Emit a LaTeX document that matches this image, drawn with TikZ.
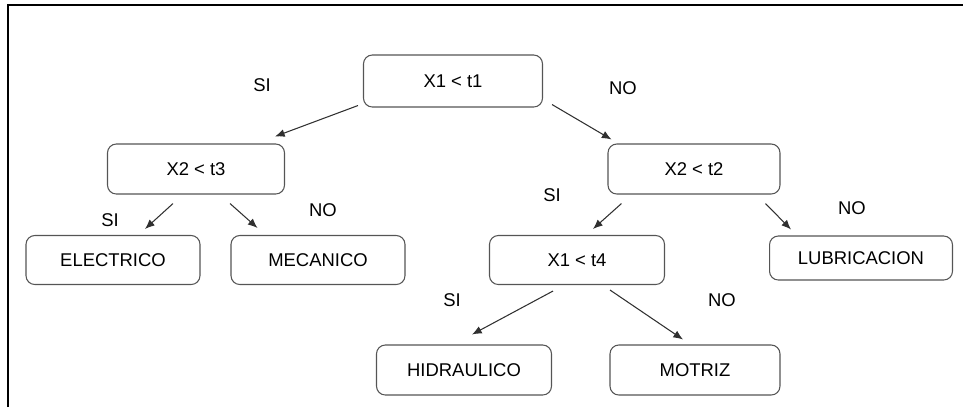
\documentclass[tikz,border=0pt]{standalone}
\usepackage{fontspec}
\setmainfont{Liberation Sans}
\usetikzlibrary{arrows.meta}
\definecolor{boxgray}{HTML}{555555}
\definecolor{arrgray}{HTML}{303030}
\tikzset{
  caja/.style={draw=boxgray, line width=0.6pt, rounded corners=5pt, inner sep=0pt,
    font=\fontsize{10.5}{12}\selectfont},
  rama/.style={font=\fontsize{10.5}{12}\selectfont, inner sep=1pt},
  flecha/.style={->, draw=arrgray, line width=0.6pt}
}
\begin{document}
\begin{tikzpicture}[x=0.02cm, y=-0.02cm, >={Latex[length=5.5pt,width=4.5pt]}]
\useasboundingbox (0,0) rectangle (963,407);
\draw[line width=1.1pt] (8,407)--(8,5)--(963,5);

\node[caja, minimum width=3.58cm, minimum height=1.04cm] (x1t1) at (453,81) {X1 < t1};
\node[caja, minimum width=3.54cm, minimum height=1cm] (x2t3) at (196,169) {X2 < t3};
\node[caja, minimum width=3.44cm, minimum height=1cm] (x2t2) at (694,169) {X2 < t2};
\node[caja, minimum width=3.48cm, minimum height=0.98cm] (elec) at (113,260) {ELECTRICO};
\node[caja, minimum width=3.48cm, minimum height=0.98cm] (meca) at (318,260) {MECANICO};
\node[caja, minimum width=3.5cm, minimum height=0.98cm] (x1t4) at (577,260) {X1 < t4};
\node[caja, minimum width=3.66cm, minimum height=0.88cm] (lubr) at (861,258) {LUBRICACION};
\node[caja, minimum width=3.5cm, minimum height=1cm] (hidr) at (464,370) {HIDRAULICO};
\node[caja, minimum width=3.4cm, minimum height=1cm] (motr) at (695,370) {MOTRIZ};

\node[rama] (si1) at (262,85) {SI};
\node[rama] (no1) at (623,88) {NO};
\node[rama] (si2) at (110,220) {SI};
\node[rama] (no2) at (323,210) {NO};
\node[rama] (si3) at (552,195) {SI};
\node[rama] (no3) at (852,208) {NO};
\node[rama] (si4) at (452,300) {SI};
\node[rama] (no4) at (722,300) {NO};

\draw[flecha] ([shift={(-5,-2)}]x1t1.south west) -- ([shift={(-10,-7)}]x2t3.north east);
\draw[flecha] ([shift={(9,-3)}]x1t1.south east) -- ([shift={(4,-4)}]x2t2.north west);
\draw[flecha] ([shift={(-23,9)}]x2t3.south) -- ([shift={(32,-6)}]elec.north);
\draw[flecha] ([shift={(34,9)}]x2t3.south) -- ([shift={(27,-7)}]meca.north west);
\draw[flecha] ([shift={(14,9)}]x2t2.south west) -- ([shift={(16,-6)}]x1t4.north);
\draw[flecha] ([shift={(-15,9)}]x2t2.south east) -- ([shift={(22,-6)}]lubr.north west);
\draw[flecha] ([shift={(-24,6)}]x1t4.south) -- ([shift={(8,-10)}]hidr.north);
\draw[flecha] ([shift={(33,5)}]x1t4.south) -- ([shift={(-12,-5)}]motr.north);
\end{tikzpicture}
\end{document}
